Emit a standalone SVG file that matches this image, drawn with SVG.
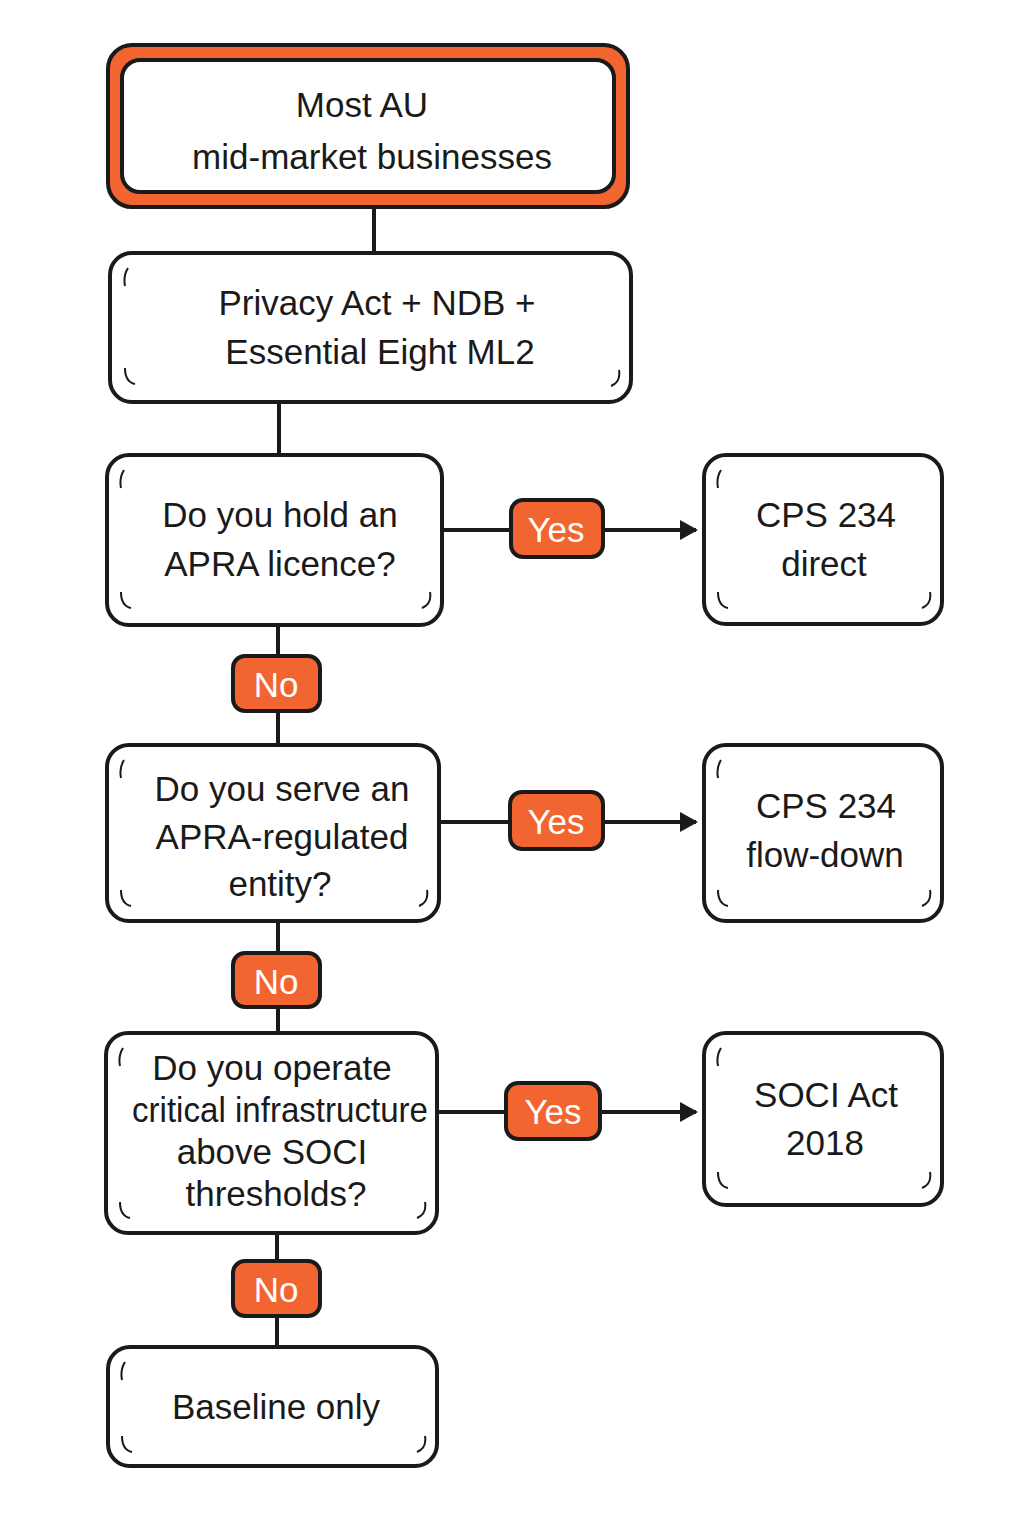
<svg xmlns="http://www.w3.org/2000/svg" width="1024" height="1536" viewBox="0 0 1024 1536">
<defs>
<style>
.box{fill:#fff;stroke:#1a1a1a;stroke-width:4}
.t{font-family:"Liberation Sans",Arial,sans-serif;font-size:35px;fill:#1a1a1a;text-anchor:middle}
.lab{fill:#f26430;stroke:#1a1a1a;stroke-width:4}
.lt{font-family:"Liberation Sans",Arial,sans-serif;font-size:35px;fill:#fff;text-anchor:middle}
.c{stroke:#1a1a1a;stroke-width:4;fill:none}
.tick{stroke:#1a1a1a;stroke-width:2;fill:none}
</style>
<marker id="ah" markerWidth="18" markerHeight="20" refX="16" refY="10" orient="auto" markerUnits="userSpaceOnUse" viewBox="0 0 18 20"><path d="M0,0 L18,10 L0,20 z" fill="#1a1a1a"/></marker>
</defs>
<rect width="1024" height="1536" fill="#fff"/>
<g id="connectors">
<path class="c" d="M374,207 V253"/>
<path class="c" d="M279,402 V455"/>
<path class="c" d="M442,530 H696" marker-end="url(#ah)"/>
<path class="c" d="M278,625 V745"/>
<path class="c" d="M439,822 H696" marker-end="url(#ah)"/>
<path class="c" d="M278,921 V1033"/>
<path class="c" d="M437,1112 H696" marker-end="url(#ah)"/>
<path class="c" d="M277,1233 V1347"/>
</g>
<g id="n1">
<rect x="108" y="45" width="520" height="162" rx="24" fill="#f26430" stroke="#1a1a1a" stroke-width="4"/>
<rect class="box" x="122" y="60" width="492" height="132" rx="18"/>
<text class="t" x="362" y="117">Most AU</text>
<text class="t" x="372" y="169">mid-market businesses</text>
</g>
<g id="n2">
<rect class="box" x="110" y="253" width="521" height="149" rx="22"/>
<path class="tick" d="M128,268 q-5,8 -3,18 M125,368 q0,14 10,16 M619,370 q2,12 -8,16"/>
<text class="t" x="377" y="315">Privacy Act + NDB +</text>
<text class="t" x="380" y="364">Essential Eight ML2</text>
</g>
<g id="n3">
<rect class="box" x="107" y="455" width="335" height="170" rx="22"/>
<path class="tick" d="M124,470 q-5,8 -3,18 M121,592 q0,14 10,16 M430,592 q2,12 -8,16"/>
<text class="t" x="280" y="527">Do you hold an</text>
<text class="t" x="280" y="576">APRA licence?</text>
</g>
<g id="n4">
<rect class="box" x="704" y="455" width="238" height="169" rx="22"/>
<path class="tick" d="M721,470 q-5,8 -3,18 M718,592 q0,14 10,16 M930,592 q2,12 -8,16"/>
<text class="t" x="826" y="527">CPS 234</text>
<text class="t" x="824" y="576">direct</text>
</g>
<g id="n5">
<rect class="box" x="107" y="745" width="332" height="176" rx="22"/>
<path class="tick" d="M124,760 q-5,8 -3,18 M121,890 q0,14 10,16 M427,890 q2,12 -8,16"/>
<text class="t" x="282" y="801">Do you serve an</text>
<text class="t" x="282" y="849">APRA-regulated</text>
<text class="t" x="280" y="896">entity?</text>
</g>
<g id="n6">
<rect class="box" x="704" y="745" width="238" height="176" rx="22"/>
<path class="tick" d="M721,760 q-5,8 -3,18 M718,890 q0,14 10,16 M930,890 q2,12 -8,16"/>
<text class="t" x="826" y="818">CPS 234</text>
<text class="t" x="825" y="867">flow-down</text>
</g>
<g id="n7">
<rect class="box" x="106" y="1033" width="331" height="200" rx="22"/>
<path class="tick" d="M123,1048 q-5,8 -3,18 M120,1202 q0,14 10,16 M425,1202 q2,12 -8,16"/>
<text class="t" x="272" y="1080" font-size="31">Do you operate</text>
<text class="t" x="280" y="1122" font-size="31" textLength="296" lengthAdjust="spacingAndGlyphs">critical infrastructure</text>
<text class="t" x="272" y="1164" font-size="31">above SOCI</text>
<text class="t" x="276" y="1206" font-size="31">thresholds?</text>
</g>
<g id="n8">
<rect class="box" x="704" y="1033" width="238" height="172" rx="22"/>
<path class="tick" d="M721,1048 q-5,8 -3,18 M718,1172 q0,14 10,16 M930,1172 q2,12 -8,16"/>
<text class="t" x="826" y="1107">SOCI Act</text>
<text class="t" x="825" y="1155">2018</text>
</g>
<g id="n9">
<rect class="box" x="108" y="1347" width="329" height="119" rx="22"/>
<path class="tick" d="M125,1362 q-5,8 -3,18 M122,1436 q0,14 10,16 M425,1436 q2,12 -8,16"/>
<text class="t" x="276" y="1419">Baseline only</text>
</g>
<g id="labels">
<rect class="lab" x="511" y="500" width="92" height="57" rx="12"/><text class="lt" x="556" y="542">Yes</text>
<rect class="lab" x="510" y="792" width="93" height="57" rx="12"/><text class="lt" x="556" y="834">Yes</text>
<rect class="lab" x="506" y="1083" width="94" height="56" rx="12"/><text class="lt" x="553" y="1124">Yes</text>
<rect class="lab" x="233" y="656" width="87" height="55" rx="12"/><text class="lt" x="276" y="697">No</text>
<rect class="lab" x="233" y="953" width="87" height="54" rx="12"/><text class="lt" x="276" y="994">No</text>
<rect class="lab" x="233" y="1261" width="87" height="55" rx="12"/><text class="lt" x="276" y="1302">No</text>
</g>
</svg>
